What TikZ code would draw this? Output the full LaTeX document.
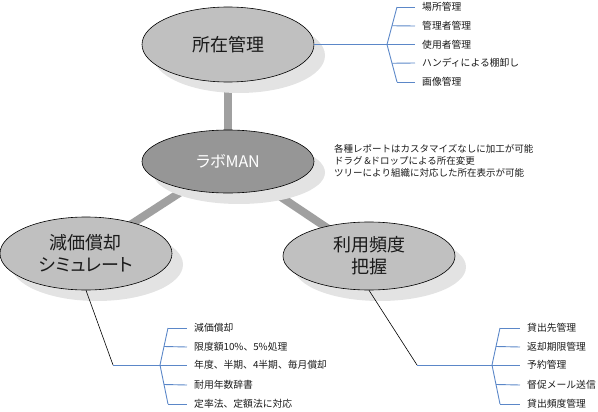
\documentclass[tikz,border=0pt]{standalone}
\usepackage{fontspec}
\setmainfont{Noto Sans CJK JP}
\newfontfamily\jpprop[RawFeature=+palt]{Noto Sans CJK JP}
\usetikzlibrary{shapes.geometric,shadows,calc}
\pgfdeclarelayer{bg}
\pgfsetlayers{bg,main}
\definecolor{ellfill}{HTML}{C0C0C0}
\definecolor{midfill}{HTML}{969696}
\definecolor{shadowc}{HTML}{E3E3E3}
\definecolor{connc}{HTML}{A0A0A0}
\definecolor{bluec}{HTML}{5B87C8}
\definecolor{textc}{HTML}{1A1A1A}
\tikzset{
  bubble/.style={ellipse, draw=black, line width=0.6pt, fill=ellfill, minimum width=172pt,
    inner sep=0pt, text=textc, align=center,
    font=\jpprop\fontsize{18}{22}\selectfont,
    drop shadow={shadow xshift=11pt, shadow yshift=-11pt, fill=shadowc, opacity=1}},
  leaf/.style={anchor=west, inner xsep=7pt, inner ysep=0pt, text=textc,
    font=\fontsize{9.8}{12}\selectfont},
  bline/.style={draw=bluec, line width=0.9pt},
  kline/.style={draw=black, line width=0.6pt},
  thick conn/.style={draw=connc, line width=8pt}
}
\begin{document}
\begin{tikzpicture}[x=1pt,y=-1pt]
\useasboundingbox (0,0) rectangle (598,412);

% bubbles
\node[bubble, minimum height=75pt] (top) at (228,44.5) {所在管理};
\node[bubble, minimum height=63pt, fill=midfill, text=white,
      font=\jpprop\fontsize{16}{20}\selectfont] (mid) at (228,161.5) {ラボMAN};
\node[bubble, minimum height=73pt] (left) at (86,253.5) {減価償却\\シミュレート};
\node[bubble, minimum height=68pt] (right) at (369,256) {利用頻度\\把握};

% thick connectors
\begin{pgfonlayer}{bg}
\draw[thick conn] (top.center) -- (mid.center);
\draw[thick conn] (mid.center) -- (left.center);
\draw[thick conn] (mid.center) -- (right.center);
\end{pgfonlayer}

% central description
\node[anchor=north west, inner sep=0pt, align=left, text=textc,
      font=\fontsize{9.5}{12}\selectfont] (desc) at (334,144)
  {各種レポートはカスタマイズなしに加工が可能\\ドラグ\,\&ドロップによる所在変更\\ツリーにより組織に対応した所在表示が可能};

% top tree
\coordinate (tj) at (387,44.5);
\coordinate (te1) at (397,7);
\coordinate (te2) at (397,82);
\node[leaf] (t1) at (415,7) {場所管理};
\node[leaf] (t2) at (415,26) {管理者管理};
\node[leaf] (t3) at (415,44.5) {使用者管理};
\node[leaf] (t4) at (415,63) {ハンディによる棚卸し};
\node[leaf] (t5) at (415,82) {画像管理};
\draw[bline] (top.east) -- (tj);
\draw[bline] (te1) -- (tj) -- (te2);
\draw[bline] (te1) -- (t1.west);
\draw[bline] ($(tj)!0.5!(te1)$) -- (t2.west);
\draw[bline] (tj) -- (t3.west);
\draw[bline] ($(tj)!0.5!(te2)$) -- (t4.west);
\draw[bline] (te2) -- (t5.west);

% left tree
\coordinate (lk) at (113,365);
\coordinate (lj) at (160,365);
\coordinate (le1) at (168,328);
\coordinate (le2) at (168,404);
\node[leaf] (l1) at (187,328) {減価償却};
\node[leaf] (l2) at (187,347) {限度額10\%、5\%処理};
\node[leaf] (l3) at (187,365) {年度、半期、4半期、毎月償却};
\node[leaf] (l4) at (187,385) {耐用年数辞書};
\node[leaf] (l5) at (187,404) {定率法、定額法に対応};
\draw[kline] (left.south) -- (lk);
\draw[bline] (lk) -- (lj);
\draw[bline] (le1) -- (lj) -- (le2);
\draw[bline] (le1) -- (l1.west);
\draw[bline] ($(lj)!0.5!(le1)$) -- (l2.west);
\draw[bline] (lj) -- (l3.west);
\draw[bline] ($(lj)!0.5!(le2)$) -- (l4.west);
\draw[bline] (le2) -- (l5.west);

% right tree
\coordinate (rk) at (417,365);
\coordinate (rj) at (492,365);
\coordinate (re1) at (500,328);
\coordinate (re2) at (500,404);
\node[leaf] (r1) at (520,328) {貸出先管理};
\node[leaf] (r2) at (520,347) {返却期限管理};
\node[leaf] (r3) at (520,365) {予約管理};
\node[leaf] (r4) at (520,385) {督促メール送信};
\node[leaf] (r5) at (520,404) {貸出頻度管理};
\draw[kline] (right.south) -- (rk);
\draw[bline] (rk) -- (rj);
\draw[bline] (re1) -- (rj) -- (re2);
\draw[bline] (re1) -- (r1.west);
\draw[bline] ($(rj)!0.5!(re1)$) -- (r2.west);
\draw[bline] (rj) -- (r3.west);
\draw[bline] ($(rj)!0.5!(re2)$) -- (r4.west);
\draw[bline] (re2) -- (r5.west);
\end{tikzpicture}
\end{document}
